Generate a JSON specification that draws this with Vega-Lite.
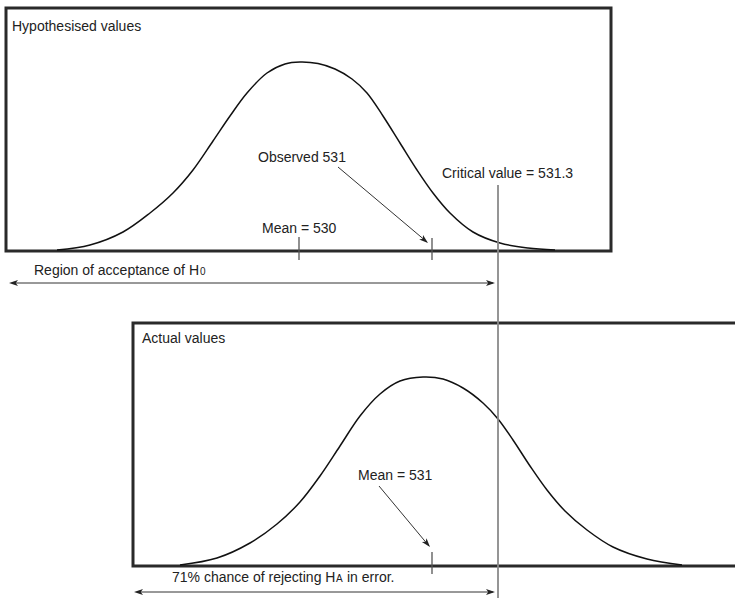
{
  "$schema": "https://vega.github.io/schema/vega-lite/v6.json",
  "width": 735,
  "height": 598,
  "autosize": {"type": "none"},
  "padding": 0,
  "background": "white",
  "config": {"view": {"stroke": null}},
  "encoding": {
    "x": {"field": "x", "type": "quantitative", "scale": {"domain": [0, 735], "nice": false, "zero": false}, "axis": null},
    "y": {"field": "y", "type": "quantitative", "scale": {"domain": [0, 598], "nice": false, "zero": false, "reverse": true}, "axis": null}
  },
  "layer": [
    {
      "data": {"values": [
        {"panel": "Hypothesised values", "x": 6, "y": 8, "x2": 611, "y2": 251},
        {"panel": "Actual values", "x": 133, "y": 323, "x2": 745, "y2": 566}
      ]},
      "mark": {"type": "rect", "fill": "white", "fillOpacity": 0, "stroke": "#2a2a2a", "strokeWidth": 3},
      "encoding": {"x2": {"field": "x2"}, "y2": {"field": "y2"}}
    },
    {
      "data": {"values": [
        {"panel": "top", "x": 57, "y": 250},
        {"panel": "top", "x": 90, "y": 245},
        {"panel": "top", "x": 123, "y": 232},
        {"panel": "top", "x": 150, "y": 213},
        {"panel": "top", "x": 173, "y": 193},
        {"panel": "top", "x": 193, "y": 170},
        {"panel": "top", "x": 213, "y": 141},
        {"panel": "top", "x": 230, "y": 116},
        {"panel": "top", "x": 247, "y": 93},
        {"panel": "top", "x": 267, "y": 73},
        {"panel": "top", "x": 285, "y": 64},
        {"panel": "top", "x": 300, "y": 62},
        {"panel": "top", "x": 318, "y": 63.5},
        {"panel": "top", "x": 335, "y": 69},
        {"panel": "top", "x": 352, "y": 79},
        {"panel": "top", "x": 367, "y": 93},
        {"panel": "top", "x": 383, "y": 116},
        {"panel": "top", "x": 400, "y": 143},
        {"panel": "top", "x": 417, "y": 170},
        {"panel": "top", "x": 433, "y": 193},
        {"panel": "top", "x": 450, "y": 213},
        {"panel": "top", "x": 473, "y": 232},
        {"panel": "top", "x": 500, "y": 243},
        {"panel": "top", "x": 528, "y": 248},
        {"panel": "top", "x": 555, "y": 250},
        {"panel": "bottom", "x": 180, "y": 565},
        {"panel": "bottom", "x": 217, "y": 558},
        {"panel": "bottom", "x": 250, "y": 543},
        {"panel": "bottom", "x": 277, "y": 524},
        {"panel": "bottom", "x": 300, "y": 502},
        {"panel": "bottom", "x": 320, "y": 476},
        {"panel": "bottom", "x": 340, "y": 446},
        {"panel": "bottom", "x": 360, "y": 416},
        {"panel": "bottom", "x": 380, "y": 394},
        {"panel": "bottom", "x": 400, "y": 381},
        {"panel": "bottom", "x": 423, "y": 377},
        {"panel": "bottom", "x": 443, "y": 379},
        {"panel": "bottom", "x": 463, "y": 388},
        {"panel": "bottom", "x": 483, "y": 403},
        {"panel": "bottom", "x": 498, "y": 419},
        {"panel": "bottom", "x": 513, "y": 440},
        {"panel": "bottom", "x": 530, "y": 466},
        {"panel": "bottom", "x": 547, "y": 490},
        {"panel": "bottom", "x": 565, "y": 511},
        {"panel": "bottom", "x": 587, "y": 530},
        {"panel": "bottom", "x": 613, "y": 547},
        {"panel": "bottom", "x": 647, "y": 559},
        {"panel": "bottom", "x": 682, "y": 565}
      ]},
      "mark": {"type": "line", "interpolate": "catmull-rom", "stroke": "#111", "strokeWidth": 1.5},
      "encoding": {"detail": {"field": "panel"}}
    },
    {
      "data": {"values": [
        {"what": "critical", "x": 498, "y": 185, "x2": 498, "y2": 598}
      ]},
      "mark": {"type": "rule", "stroke": "#8a8a8a", "strokeWidth": 1.8},
      "encoding": {"x2": {"field": "x2"}, "y2": {"field": "y2"}}
    },
    {
      "data": {"values": [
        {"what": "mean 530", "x": 299, "y": 237, "x2": 299, "y2": 260},
        {"what": "observed 531", "x": 432, "y": 238, "x2": 432, "y2": 260},
        {"what": "mean 531", "x": 432, "y": 552, "x2": 432, "y2": 574}
      ]},
      "mark": {"type": "rule", "stroke": "#555", "strokeWidth": 1.3},
      "encoding": {"x2": {"field": "x2"}, "y2": {"field": "y2"}}
    },
    {
      "data": {"values": [
        {"what": "observed arrow", "x": 338, "y": 167, "x2": 427, "y2": 242},
        {"what": "mean arrow", "x": 379, "y": 486, "x2": 429, "y2": 546},
        {"what": "acceptance", "x": 12, "y": 283, "x2": 493, "y2": 283},
        {"what": "rejecting", "x": 137, "y": 592, "x2": 493, "y2": 592}
      ]},
      "mark": {"type": "rule", "stroke": "#333", "strokeWidth": 1},
      "encoding": {"x2": {"field": "x2"}, "y2": {"field": "y2"}}
    },
    {
      "data": {"values": [
        {"what": "observed arrow", "x": 428, "y": 243, "dir": 40},
        {"what": "mean arrow", "x": 430, "y": 547, "dir": 50},
        {"what": "acceptance right", "x": 495, "y": 283, "dir": 0},
        {"what": "acceptance left", "x": 9, "y": 283, "dir": 180},
        {"what": "rejecting right", "x": 495, "y": 592, "dir": 0},
        {"what": "rejecting left", "x": 134, "y": 592, "dir": 180}
      ]},
      "mark": {"type": "point", "shape": "M0,0L-2,-0.67L-1.5,0L-2,0.67Z", "filled": true, "fill": "#222", "stroke": null, "size": 81, "opacity": 1},
      "encoding": {"angle": {"field": "dir", "type": "quantitative", "scale": null}}
    },
    {
      "data": {"values": [
        {"label": "Hypothesised values", "x": 12, "y": 31},
        {"label": "Observed 531", "x": 258, "y": 162},
        {"label": "Mean = 530", "x": 262, "y": 233},
        {"label": "Critical value = 531.3", "x": 442, "y": 178},
        {"label": "Region of acceptance of H", "x": 34, "y": 275},
        {"label": "Actual values", "x": 142, "y": 343},
        {"label": "Mean = 531", "x": 358, "y": 480},
        {"label": "71% chance of rejecting H", "x": 172, "y": 582},
        {"label": "in error.", "x": 347, "y": 582}
      ]},
      "mark": {"type": "text", "align": "left", "baseline": "alphabetic", "font": "Liberation Sans", "fontSize": 14, "fill": "#222"},
      "encoding": {"text": {"field": "label"}}
    },
    {
      "data": {"values": [
        {"label": "0", "x": 200, "y": 275},
        {"label": "A", "x": 336, "y": 582}
      ]},
      "mark": {"type": "text", "align": "left", "baseline": "alphabetic", "font": "Liberation Sans", "fontSize": 10, "fill": "#222"},
      "encoding": {"text": {"field": "label"}}
    }
  ]
}
